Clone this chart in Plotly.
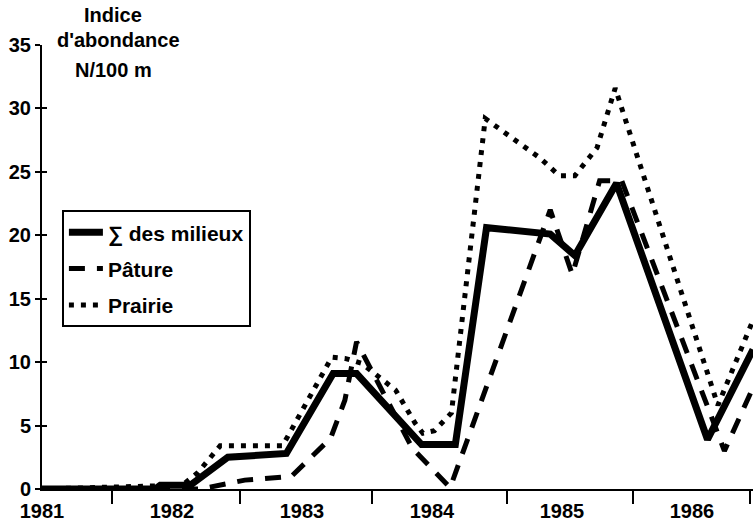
import plotly.graph_objects as go

# ---- data ----
x_sum = [1981.00, 1981.87, 1981.91, 1982.14, 1982.43, 1982.88, 1983.24, 1983.42,
         1983.92, 1984.18, 1984.42, 1984.91, 1985.10, 1985.42, 1986.12, 1986.47]
v_sum = [0, 0, 0.3, 0.3, 2.5, 2.8, 9.1, 9.1,
         3.5, 3.5, 20.6, 20.1, 18.4, 24.1, 3.9, 11.0]

x_pature = [1981.00, 1982.22, 1982.56, 1982.92, 1983.22, 1983.33, 1983.42, 1983.85,
            1984.14, 1984.91, 1985.08, 1985.29, 1985.46, 1986.25, 1986.47]
v_pature = [0, 0, 0.7, 1.0, 4.0, 7.0, 11.6, 3.2,
            0.1, 22.0, 16.9, 24.3, 24.3, 3.0, 8.0]

x_prairie = [1981.00, 1982.08, 1982.20, 1982.37, 1982.85, 1983.23, 1983.33, 1983.46,
             1983.72, 1983.87, 1983.93, 1984.02, 1984.15, 1984.41, 1984.83, 1984.98,
             1985.10, 1985.27, 1985.41, 1986.20, 1986.47]
v_prairie = [0, 0.3, 1.3, 3.4, 3.4, 10.4, 10.3, 9.9,
             7.8, 5.2, 4.4, 4.6, 6.0, 29.2, 26.1, 24.7,
             24.7, 26.9, 31.6, 6.6, 13.3]

series_names = ["∑ des milieux", "Pâture", "Prairie"]
year_labels = [1981, 1982, 1983, 1984, 1985, 1986]
x_tick_marks = [1981.54, 1982.52, 1983.54, 1984.58, 1985.55, 1986.45]
y_ticks = [0, 5, 10, 15, 20, 25, 30, 35]
title_lines = ["Indice", "d'abondance", "N/100 m"]

FONT = "Liberation Sans, Arial, Helvetica, sans-serif"

fig = go.Figure()
fig.add_trace(go.Scatter(x=x_sum, y=v_sum, mode="lines", name=series_names[0],
                         line=dict(color="black", width=7), legendgroup="a"))
fig.add_trace(go.Scatter(x=x_pature, y=v_pature, mode="lines", name=series_names[1],
                         line=dict(color="black", width=5, dash="16px,12px"), legendgroup="b"))
fig.add_trace(go.Scatter(x=x_prairie, y=v_prairie, mode="lines", name=series_names[2],
                         line=dict(color="black", width=5, dash="5px,7px"), legendgroup="c"))
# invisible helper trace for the overlaid tick axis
fig.add_trace(go.Scatter(x=[year_labels[0]], y=[0], yaxis="y2", mode="markers",
                         marker=dict(opacity=0), showlegend=False, hoverinfo="skip"))

fig.update_layout(
    width=753, height=529,
    margin=dict(l=42, r=0, t=45, b=40),
    paper_bgcolor="white", plot_bgcolor="white",
    font=dict(family=FONT, size=20, color="black", weight="bold"),
    showlegend=True,
    xaxis=dict(
        range=[1981, 1986.47], showgrid=False, zeroline=False,
        showline=True, linecolor="black", linewidth=2,
        tickmode="array", tickvals=year_labels, ticktext=[str(y) for y in year_labels],
        ticks="outside", ticklen=8, tickcolor="rgba(0,0,0,0)",
        ticklabelstandoff=-5,
        tickfont=dict(family=FONT, size=20, weight="bold", color="black"),
        minor=dict(tickmode="array", tickvals=x_tick_marks, ticks="outside",
                   ticklen=13, tickwidth=2, tickcolor="black", showgrid=False),
    ),
    yaxis=dict(
        range=[0, 35], showgrid=False, zeroline=False,
        showline=True, linecolor="black", linewidth=2,
        tickmode="array", tickvals=y_ticks,
        ticks="outside", ticklen=5, tickwidth=2, tickcolor="black",
        tickfont=dict(family=FONT, size=20, weight="bold", color="black"),
    ),
    yaxis2=dict(
        overlaying="y", side="left", range=[0, 35], showgrid=False, zeroline=False,
        showline=False, tickmode="array", tickvals=y_ticks, ticks="inside",
        ticklen=5, tickwidth=2, tickcolor="black", showticklabels=False,
    ),
    legend=dict(
        x=0.028, y=0.628, xanchor="left", yanchor="top",
        bgcolor="white", bordercolor="black", borderwidth=2,
        font=dict(family=FONT, size=21, weight="bold", color="black"),
        tracegroupgap=6, traceorder="grouped", itemwidth=34,
    ),
)

title_pos = [(0.0999, 1.0676), (0.108, 1.0113), (0.0999, 0.9437)]
for txt, (px, py) in zip(title_lines, title_pos):
    fig.add_annotation(text=txt, x=px, y=py, xref="paper", yref="paper",
                       xanchor="center", yanchor="middle", showarrow=False,
                       font=dict(family=FONT, size=20, weight="bold", color="black"))

fig.write_html("out.html", config={"displayModeBar": False},
               post_script="document.body.style.margin='0';")
